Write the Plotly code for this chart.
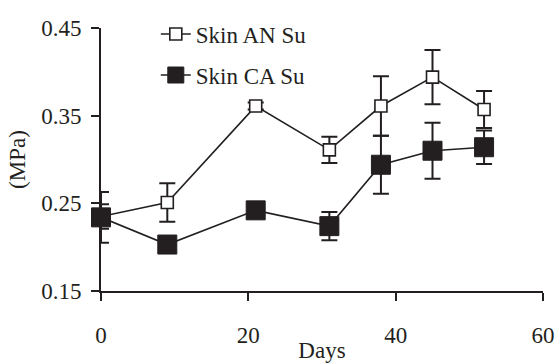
import plotly.graph_objects as go

days = [0, 9, 21, 31, 38, 45, 52]
an_su = [0.235, 0.251, 0.361, 0.311, 0.361, 0.394, 0.357]
an_err = [0.014, 0.022, 0.004, 0.015, 0.034, 0.031, 0.021]
ca_su = [0.234, 0.203, 0.242, 0.224, 0.294, 0.310, 0.314]
ca_err = [0.029, 0.005, 0.005, 0.016, 0.033, 0.032, 0.019]
x_ticks = [0, 20, 40, 60]
y_ticks = [0.15, 0.25, 0.35, 0.45]

INK = "#231f20"
FONT = "Liberation Serif"

fig = go.Figure()
fig.add_trace(go.Scatter(
    x=days, y=an_su, name="Skin AN Su", mode="lines+markers",
    line=dict(color=INK, width=1.6),
    marker=dict(symbol="square", size=12, color="white", line=dict(color=INK, width=1.6)),
    error_y=dict(type="data", array=an_err, color=INK, thickness=2, width=8),
    cliponaxis=False, legend="legend", showlegend=True,
))
fig.add_trace(go.Scatter(
    x=days, y=ca_su, name="Skin CA Su", mode="lines+markers",
    line=dict(color=INK, width=1.6),
    marker=dict(symbol="square", size=19, color=INK, line=dict(color=INK, width=1)),
    error_y=dict(type="data", array=ca_err, color=INK, thickness=2, width=8),
    cliponaxis=False, legend="legend2", showlegend=True,
))

leg_common = dict(font=dict(family=FONT, size=23, color=INK), bgcolor="rgba(0,0,0,0)",
                  xanchor="left", yanchor="middle", borderwidth=0, visible=True)
fig.update_layout(
    width=558, height=363,
    showlegend=True,
    margin=dict(l=101, r=15, t=28, b=72, autoexpand=False),
    paper_bgcolor="white", plot_bgcolor="white",
    font=dict(family=FONT, size=23, color=INK),
    legend=dict(x=0.124, y=0.977, **leg_common),
    legend2=dict(x=0.124, y=0.821, **leg_common),
    xaxis=dict(
        range=[0, 60], tickvals=x_ticks, ticktext=[str(v) for v in x_ticks],
        showgrid=False, zeroline=False, showline=True, linecolor=INK, linewidth=2,
        ticks="outside", ticklen=8, tickwidth=2, tickcolor=INK,
        ticklabelstandoff=14, automargin=False,
        title=dict(text="Days", standoff=20, font=dict(family=FONT, size=23)),
    ),
    yaxis=dict(
        range=[0.15, 0.45], tickvals=y_ticks, ticktext=[f"{v:.2f}" for v in y_ticks],
        showgrid=False, zeroline=False, showline=True, linecolor=INK, linewidth=2,
        ticks="outside", ticklen=8, tickwidth=2, tickcolor=INK,
        ticklabelstandoff=5, automargin=False,
        title=dict(text="(MPa)", standoff=9, font=dict(family=FONT, size=23)),
    ),
)
fig.write_html("out.html")
